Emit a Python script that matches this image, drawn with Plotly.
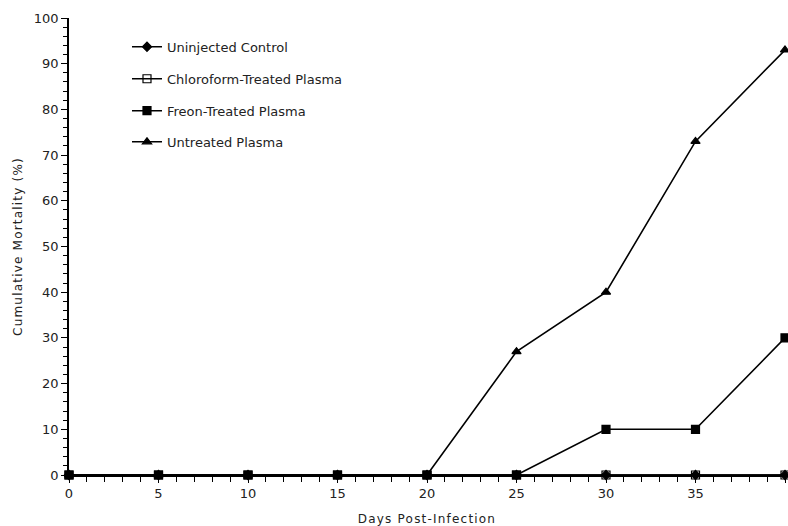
import plotly.graph_objects as go

days = [0, 5, 10, 15, 20, 25, 30, 35, 40]
uninjected = [0, 0, 0, 0, 0, 0, 0, 0, 0]
chloroform = [0, 0, 0, 0, 0, 0, 0, 0, 0]
freon = [0, 0, 0, 0, 0, 0, 10, 10, 30]
untreated = [0, 0, 0, 0, 0, 27, 40, 73, 93]

names = ["Uninjected Control", "Chloroform-Treated Plasma", "Freon-Treated Plasma", "Untreated Plasma"]
series = [uninjected, chloroform, freon, untreated]
symbols = ["diamond", "square-open", "square", "triangle-up"]
sizes = [7, 8, 8, 8]
legend_ids = ["legend", "legend2", "legend3", "legend4"]
legend_y = [0.937, 0.867, 0.797, 0.729]

FONT = "DejaVu Sans"
fig = go.Figure()
for n, s, sym, sz, lid in zip(names, series, symbols, sizes, legend_ids):
    fig.add_trace(go.Scatter(
        x=days, y=s, name=n, mode="lines+markers", legend=lid,
        line=dict(color="black", width=1.6),
        marker=dict(symbol=sym, size=sz, color="black", line=dict(color="black", width=1.2)),
        cliponaxis=False,
    ))

legend_common = dict(x=0.081, xanchor="left", yanchor="middle",
                     bgcolor="rgba(0,0,0,0)", font=dict(size=13, family=FONT, color="#222"))
layout_legends = {lid: dict(y=ly, **legend_common) for lid, ly in zip(legend_ids, legend_y)}

fig.update_layout(
    width=788, height=526,
    margin=dict(l=69, r=3, t=18, b=51),
    paper_bgcolor="white", plot_bgcolor="white",
    font=dict(family=FONT, size=13, color="#222"),
    showlegend=True,
    xaxis=dict(range=[0, 40], tickmode="array", tickvals=list(range(0, 41, 5)),
               showgrid=False, zeroline=False, showline=True, linecolor="black", linewidth=1.5,
               ticks="outside", ticklen=6, tickcolor="black",
               minor=dict(dtick=1, ticks="outside", ticklen=5, tickcolor="black", showgrid=False),
               title=dict(text="Days Post-Infection", font=dict(size=12), standoff=14)),
    yaxis=dict(range=[0, 100], tickmode="array", tickvals=list(range(0, 101, 10)),
               showgrid=False, zeroline=False, showline=True, linecolor="black", linewidth=1.5,
               ticks="outside", ticklen=6, tickcolor="black",
               minor=dict(dtick=2, ticks="outside", ticklen=4, tickcolor="black", showgrid=False),
               title=dict(text="Cumulative Mortality (%)", font=dict(size=12), standoff=9)),
    **layout_legends,
)

post = (
    "document.body.style.margin='0';document.body.style.overflow='hidden';"
    "var st=document.createElement('style');"
    "st.textContent='.xtitle,.ytitle{letter-spacing:1.2px;}';"
    "document.head.appendChild(st);"
)
fig.write_html("out.html", config={"displayModeBar": False}, post_script=post)
